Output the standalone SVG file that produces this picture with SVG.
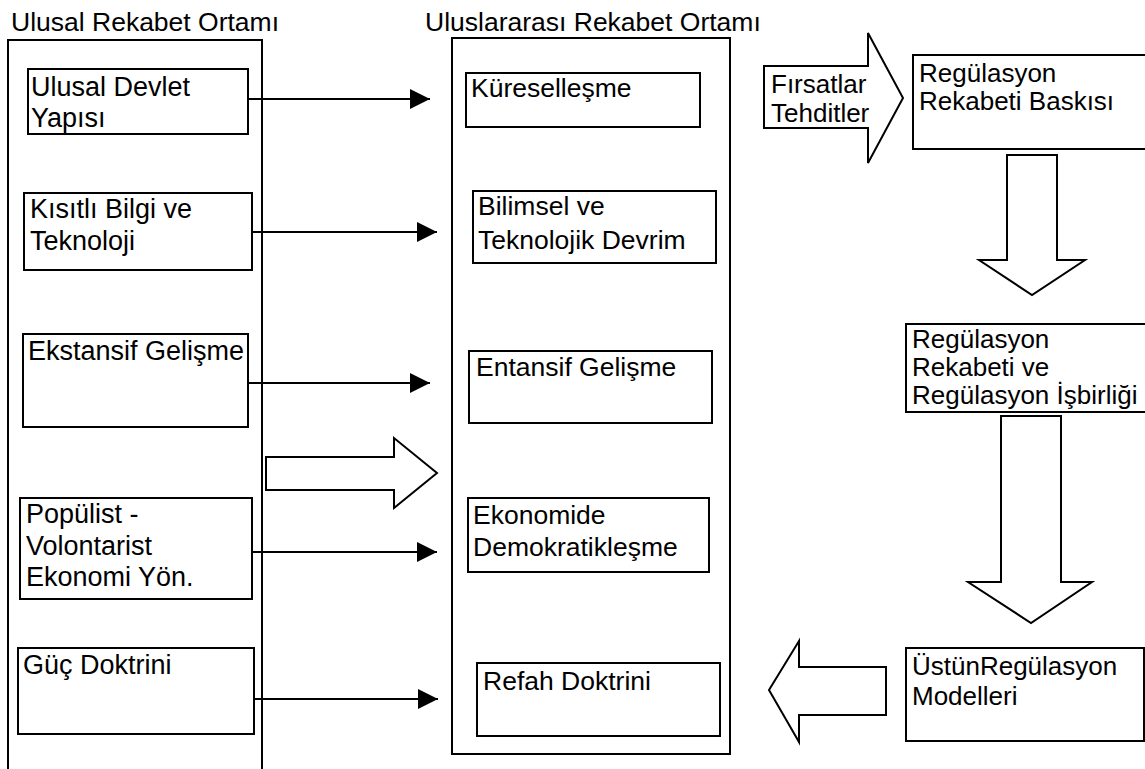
<svg xmlns="http://www.w3.org/2000/svg" width="1145" height="769" viewBox="0 0 1145 769">
<style>
text{font-family:"Liberation Sans",Arial,sans-serif;font-size:26px;fill:#000}
.l text{font-size:27px}
.m text{font-size:26.5px}
.t{font-size:26.5px}
.box{fill:#fff;stroke:#000;stroke-width:2}
.cont{fill:none;stroke:#000;stroke-width:2}
.conn{stroke:#000;stroke-width:2;fill:none}
.blk{fill:#fff;stroke:#000;stroke-width:2;stroke-linejoin:miter}
</style>
<defs>
<marker id="ah" markerUnits="userSpaceOnUse" markerWidth="20" markerHeight="20" refX="20" refY="10" orient="auto">
<path d="M0,0 L20,10 L0,20 z" fill="#000"/>
</marker>
</defs>
<rect width="1145" height="769" fill="#fff"/>

<g id="national">
<rect class="cont" x="8" y="40" width="254" height="760"/>
<text class="t" x="11" y="31">Ulusal Rekabet Ortamı</text>
</g>
<g id="international">
<rect class="cont" x="452" y="38" width="278" height="716"/>
<text class="t" x="425" y="31">Uluslararası Rekabet Ortamı</text>
</g>

<g class="l">
<g id="n1"><rect class="box" x="28" y="69" width="220" height="65"/><text x="31" y="96">Ulusal Devlet</text><text x="31" y="127">Yapısı</text></g>
<g id="n2"><rect class="box" x="24" y="193" width="228" height="77"/><text x="30" y="218">Kısıtlı Bilgi ve</text><text x="30" y="250">Teknoloji</text></g>
<g id="n3"><rect class="box" x="23" y="334" width="225" height="93"/><text x="28" y="360">Ekstansif Gelişme</text></g>
<g id="n4"><rect class="box" x="20" y="498" width="232" height="101"/><text x="26" y="523">Popülist -</text><text x="26" y="555">Volontarist</text><text x="26" y="586">Ekonomi Yön.</text></g>
<g id="n5"><rect class="box" x="18" y="648" width="236" height="86"/><text x="23" y="674">Güç Doktrini</text></g>
</g>

<g class="m">
<g id="m1"><rect class="box" x="466" y="73" width="234" height="54"/><text x="471" y="97">Küreselleşme</text></g>
<g id="m2"><rect class="box" x="473" y="191" width="243" height="72"/><text x="478" y="215">Bilimsel ve</text><text x="478" y="249">Teknolojik Devrim</text></g>
<g id="m3"><rect class="box" x="469" y="351" width="243" height="72"/><text x="476" y="376">Entansif Gelişme</text></g>
<g id="m4"><rect class="box" x="468" y="498" width="241" height="74"/><text x="473" y="524">Ekonomide</text><text x="473" y="556">Demokratikleşme</text></g>
<g id="m5"><rect class="box" x="477" y="663" width="243" height="73"/><text x="483" y="690">Refah Doktrini</text></g>
</g>

<g id="r1"><rect class="box" x="913" y="55" width="240" height="94"/><text x="919" y="82">Regülasyon</text><text x="919" y="110">Rekabeti Baskısı</text></g>
<g id="r2"><rect class="box" x="906" y="324" width="245" height="88"/><text x="912" y="348">Regülasyon</text><text x="912" y="376">Rekabeti ve</text><text x="912" y="404">Regülasyon İşbirliği</text></g>
<g id="r3"><rect class="box" x="906" y="648" width="238" height="93"/><text x="912" y="675">ÜstünRegülasyon</text><text x="912" y="705">Modelleri</text></g>

<g id="connectors">
<line class="conn" x1="248" y1="99" x2="430" y2="99" marker-end="url(#ah)"/>
<line class="conn" x1="252" y1="232" x2="437" y2="232" marker-end="url(#ah)"/>
<line class="conn" x1="248" y1="383" x2="430" y2="383" marker-end="url(#ah)"/>
<line class="conn" x1="252" y1="552" x2="437" y2="552" marker-end="url(#ah)"/>
<line class="conn" x1="254" y1="699" x2="438" y2="699" marker-end="url(#ah)"/>
<polygon class="blk" points="266,457 394,457 394,438 437,473 394,508 394,490 266,490"/>
<polygon class="blk" points="764,66 868,66 868,33 903,98 868,163 868,128 764,128"/>
<polygon class="blk" points="1007,155 1057,155 1057,260 1085,260 1032,295 979,260 1007,260"/>
<polygon class="blk" points="1001,416 1061,416 1061,582 1092,582 1031,623 968,582 1001,582"/>
<polygon class="blk" points="886,667 886,715 799,715 799,742 769,690 799,641 799,667"/>
</g>
<g id="threats">
<text x="771" y="93">Fırsatlar</text>
<text x="771" y="122">Tehditler</text>
</g>
</svg>
